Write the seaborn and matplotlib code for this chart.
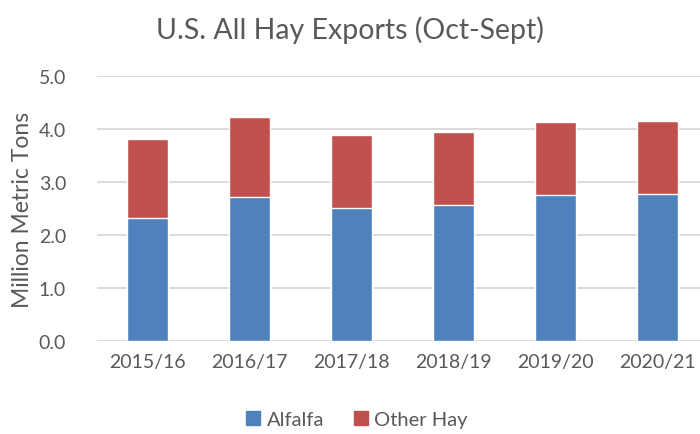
import numpy as np
import pandas as pd
import seaborn as sns
import matplotlib.pyplot as plt
from matplotlib.patches import Patch

# Data
seasons = ["2015/16", "2016/17", "2017/18", "2018/19", "2019/20", "2020/21"]
alfalfa = [2.33, 2.72, 2.52, 2.56, 2.75, 2.77]
other_hay = [1.48, 1.52, 1.37, 1.38, 1.38, 1.38]

sns.set_theme(style="white")
plt.rcParams["font.family"] = ["Lato", "DejaVu Sans"]

df = pd.DataFrame({"Season": seasons, "Alfalfa": alfalfa, "Other Hay": other_hay})
df["Total"] = df["Alfalfa"] + df["Other Hay"]

blue = "#4F81BD"
red = "#C0504D"
grey = "#595959"

fig = plt.figure(figsize=(7, 4.35), dpi=100)
ax = fig.add_axes([0.138, 0.214, 0.874, 0.608])

# stacked bars: total in red, alfalfa drawn over it in blue
sns.barplot(data=df, x="Season", y="Total", color=red, width=0.4, saturation=1, ax=ax, zorder=2)
sns.barplot(data=df, x="Season", y="Alfalfa", color=blue, width=0.4, saturation=1, ax=ax, zorder=3)

ax.set_ylim(0, 5)
ax.set_xlim(-0.5, 5.5)
ax.set_yticks(np.arange(0, 5.01, 1.0))
ax.set_yticklabels([f"{v:.1f}" for v in np.arange(0, 5.01, 1.0)])
ax.yaxis.grid(True, color="#D9D9D9", linewidth=1.3, zorder=0)
ax.set_axisbelow(True)
for s in ax.spines.values():
    s.set_visible(False)
ax.tick_params(axis="both", length=0, labelsize=14, colors=grey, pad=9)
ax.tick_params(axis="y", pad=22)

ax.set_xlabel("")
ax.set_ylabel("Million Metric Tons", fontsize=16.5, color=grey, labelpad=4)
fig.text(0.50, 0.93, "U.S. All Hay Exports (Oct-Sept)", ha="center", va="center",
         fontsize=20.5, color=grey)

handles = [Patch(color=blue, label="Alfalfa"), Patch(color=red, label="Other Hay")]
fig.legend(handles=handles, loc="center", bbox_to_anchor=(0.51, 0.033), ncol=2,
           frameon=False, fontsize=14.5, labelcolor=grey, handlelength=0.7,
           handleheight=0.7, handletextpad=0.3, columnspacing=1.5)

fig.savefig("out.png", dpi=100)
